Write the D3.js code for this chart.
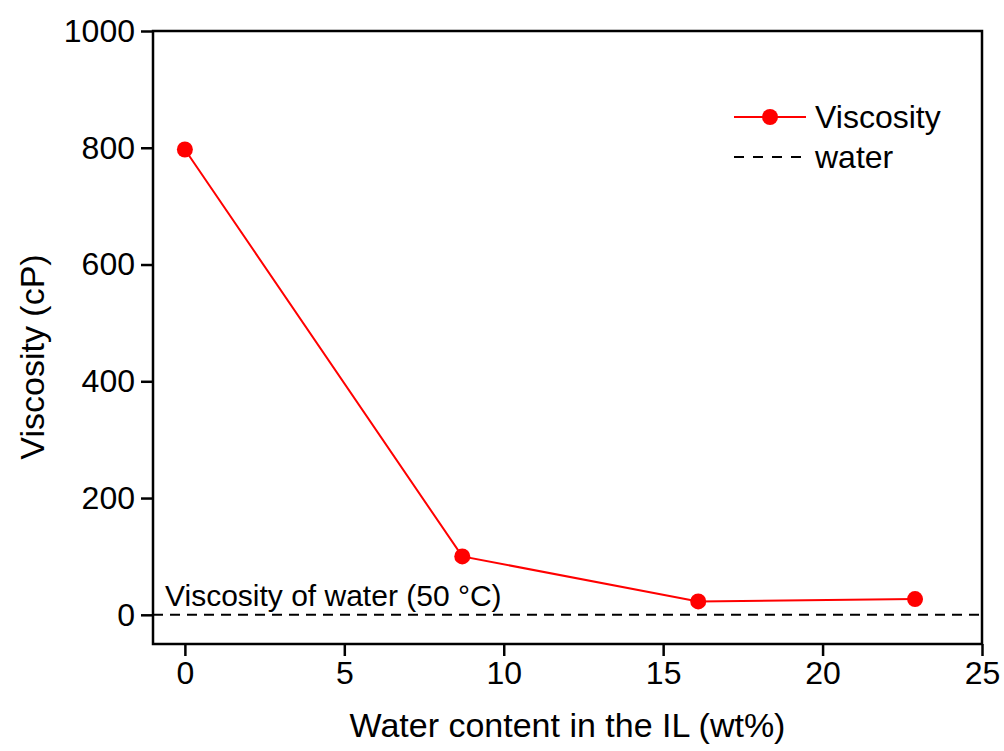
<!DOCTYPE html>
<html>
<head>
<meta charset="utf-8">
<script src="https://cdn.jsdelivr.net/npm/d3@7"></script>
<style>
  body { margin: 0; background: #fff; }
  text { font-family: "Liberation Sans", Arial, sans-serif; fill: #000; }
</style>
</head>
<body>
<script>
// data
var waterContent = [0, 8.7, 16.1, 22.9];
var viscosity = [797, 100, 23, 27];
var waterViscosity = 0;
var xTicks = [0, 5, 10, 15, 20, 25];
var yTicks = [0, 200, 400, 600, 800, 1000];
var legendLabels = ["Viscosity", "water"];

var W = 1004, H = 751;
var margin = {left: 153, right: 22, top: 31, bottom: 107};

var svg = d3.select("body").append("svg").attr("width", W).attr("height", H);

var x = d3.scaleLinear().domain([-1, 25]).range([margin.left, W - margin.right]);
var y = d3.scaleLinear().domain([-50, 1000]).range([H - margin.bottom, margin.top]);

// frame
svg.append("rect")
	.attr("x", x(-1)).attr("y", y(1000))
	.attr("width", x(25) - x(-1)).attr("height", y(-50) - y(1000))
	.attr("fill", "none").attr("stroke", "#000").attr("stroke-width", 2.5);

// axes
var xAxis = svg.append("g")
	.attr("transform", "translate(0," + y(-50) + ")")
	.call(d3.axisBottom(x).tickValues(xTicks).tickSize(12).tickPadding(5).tickFormat(d3.format("d")));
var yAxis = svg.append("g")
	.attr("transform", "translate(" + x(-1) + ",0)")
	.call(d3.axisLeft(y).tickValues(yTicks).tickSize(12).tickPadding(6).tickFormat(d3.format("d")));

[xAxis, yAxis].forEach(function(a){
	a.select(".domain").remove();
	a.selectAll("line").attr("stroke", "#000").attr("stroke-width", 2.5);
	a.selectAll("text").style("font-size", "32px").style("font-family", '"Liberation Sans", Arial, sans-serif').attr("fill", "#000");
});

// water reference line
svg.append("line")
	.attr("x1", x(-1)).attr("x2", x(25))
	.attr("y1", y(waterViscosity)).attr("y2", y(waterViscosity))
	.attr("stroke", "#000").attr("stroke-width", 2)
	.attr("stroke-dasharray", "10,7");

svg.append("text")
	.attr("x", x(-1) + 12).attr("y", y(waterViscosity) - 9)
	.style("font-size", "30px")
	.text("Viscosity of water (50 °C)");

// viscosity series
var pts = waterContent.map(function(d, i){ return [d, viscosity[i]]; });
svg.append("path")
	.datum(pts)
	.attr("fill", "none").attr("stroke", "#ff0000").attr("stroke-width", 2)
	.attr("d", d3.line().x(function(d){ return x(d[0]); }).y(function(d){ return y(d[1]); }));
svg.selectAll("circle.pt").data(pts).enter().append("circle")
	.attr("class", "pt")
	.attr("cx", function(d){ return x(d[0]); })
	.attr("cy", function(d){ return y(d[1]); })
	.attr("r", 8).attr("fill", "#ff0000");

// legend
var lg = svg.append("g").attr("transform", "translate(734,117)");
lg.append("line").attr("x1", 0).attr("x2", 72).attr("y1", 0).attr("y2", 0)
	.attr("stroke", "#ff0000").attr("stroke-width", 2);
lg.append("circle").attr("cx", 36).attr("cy", 0).attr("r", 8).attr("fill", "#ff0000");
lg.append("text").attr("x", 81).attr("y", 0).attr("dy", "0.35em").style("font-size", "32px").text(legendLabels[0]);
lg.append("line").attr("x1", 0).attr("x2", 72).attr("y1", 40).attr("y2", 40)
	.attr("stroke", "#000").attr("stroke-width", 2).attr("stroke-dasharray", "10,9");
lg.append("text").attr("x", 81).attr("y", 40).attr("dy", "0.35em").style("font-size", "32px").text(legendLabels[1]);

// axis titles
svg.append("text")
	.attr("x", (x(-1) + x(25)) / 2).attr("y", 737)
	.attr("text-anchor", "middle")
	.style("font-size", "34px")
	.text("Water content in the IL (wt%)");
svg.append("text")
	.attr("transform", "translate(44," + 357 + ") rotate(-90)")
	.attr("text-anchor", "middle")
	.style("font-size", "34px")
	.text("Viscosity (cP)");
</script>
</body>
</html>
